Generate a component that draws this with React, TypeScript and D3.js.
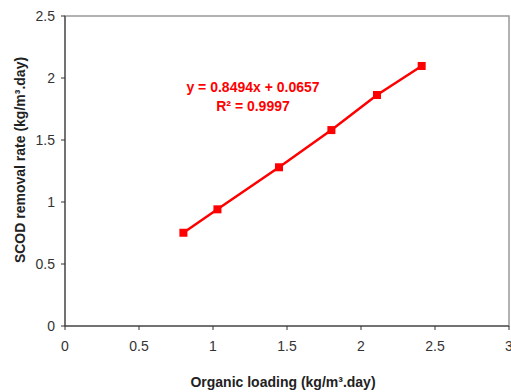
import * as d3 from "d3";

const loading = [0.8, 1.03, 1.446, 1.8, 2.108, 2.41];
const removal = [0.752, 0.941, 1.28, 1.58, 1.863, 2.097];
const xTicks = [0, 0.5, 1, 1.5, 2, 2.5, 3];
const yTicks = [0, 0.5, 1, 1.5, 2, 2.5];
const eqLines = ["y = 0.8494x + 0.0657", "R² = 0.9997"];

const W = 511;
const H = 392;
const M = { left: 65, right: 2, top: 16, bottom: 66 };

export default function App() {
  const x = d3.scaleLinear().domain([0, 3]).range([M.left, W - M.right]);
  const y = d3.scaleLinear().domain([0, 2.5]).range([H - M.bottom, M.top]);
  const pts = loading.map((v, i) => [v, removal[i]] as [number, number]);
  const line = d3
    .line<[number, number]>()
    .x((d) => x(d[0]))
    .y((d) => y(d[1]));
  const font = "Arial, 'Liberation Sans', sans-serif";

  return (
    <svg
      width={W}
      height={H}
      style={{ position: "absolute", left: 0, top: 0, background: "#fff" }}
      fontFamily={font}
    >
      <rect
        x={x(0)}
        y={y(2.5)}
        width={x(3) - x(0)}
        height={y(0) - y(2.5)}
        fill="#fff"
        stroke="#999"
        strokeWidth={1.5}
      />
      <line x1={x(0)} x2={x(0)} y1={y(0)} y2={y(2.5)} stroke="#333" />
      <line x1={x(0)} x2={x(3)} y1={y(0)} y2={y(0)} stroke="#333" />
      {yTicks.map((t) => (
        <g key={"y" + t}>
          <line x1={x(0) - 4} x2={x(0)} y1={y(t)} y2={y(t)} stroke="#333" />
          <text
            x={x(0) - 10}
            y={y(t)}
            dy="0.35em"
            textAnchor="end"
            fontSize={14}
            fill="#333"
          >
            {t}
          </text>
        </g>
      ))}
      {xTicks.map((t) => (
        <g key={"x" + t}>
          <line x1={x(t)} x2={x(t)} y1={y(0)} y2={y(0) + 4} stroke="#333" />
          <text
            x={x(t)}
            y={y(0) + 25}
            textAnchor="middle"
            fontSize={14}
            fill="#333"
          >
            {t}
          </text>
        </g>
      ))}
      <path d={line(pts) || ""} fill="none" stroke="#ff0000" strokeWidth={2.5} />
      {pts.map((p, i) => (
        <rect
          key={i}
          x={x(p[0]) - 4}
          y={y(p[1]) - 4}
          width={8}
          height={8}
          fill="#ff0000"
        />
      ))}
      {eqLines.map((s, i) => (
        <text
          key={s}
          x={253}
          y={92 + i * 19}
          textAnchor="middle"
          fontSize={14}
          fontWeight="bold"
          fill="#ff0000"
        >
          {s}
        </text>
      ))}
      <text
        x={283}
        y={387}
        textAnchor="middle"
        fontSize={14}
        fontWeight="bold"
        fill="#222"
      >
        Organic loading (kg/m³.day)
      </text>
      <text
        transform={`translate(25,160) rotate(-90)`}
        textAnchor="middle"
        fontSize={14}
        fontWeight="bold"
        fill="#222"
      >
        SCOD removal rate (kg/m³.day)
      </text>
    </svg>
  );
}
